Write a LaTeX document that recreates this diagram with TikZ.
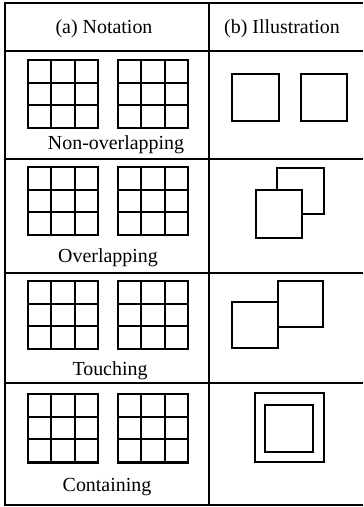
\documentclass[tikz,border=0pt]{standalone}
\usepackage{fontspec}
\setmainfont{Liberation Serif}
\tikzset{
  rule/.style={line width=1.8pt, black},
  gridouter/.style={line width=3pt, black},
  gridinner/.style={line width=2.1pt, black},
  sq/.style={line width=2.8pt, black, fill=white},
  lbl/.style={font=\fontsize{20}{22}\selectfont, inner sep=0pt, anchor=base}
}
\newcommand{\mygrid}[2]{%
  \draw[gridinner] (#1+23.33,#2) -- (#1+23.33,#2+68);
  \draw[gridinner] (#1+46.67,#2) -- (#1+46.67,#2+68);
  \draw[gridinner] (#1,#2+22.67) -- (#1+70,#2+22.67);
  \draw[gridinner] (#1,#2+45.33) -- (#1+70,#2+45.33);
  \draw[gridouter] (#1,#2) rectangle (#1+70,#2+68);
}
\begin{document}
\begin{tikzpicture}[x=1bp,y=-1bp]
\useasboundingbox[fill=white] (0,0) rectangle (363,507);
% table rules
\draw[rule] (363,3) -- (5,3) -- (5,505) -- (363,505);
\draw[rule] (209,3) -- (209,505);
\draw[rule] (5,51) -- (363,51);
\draw[rule] (5,159) -- (363,159);
\draw[rule] (5,273) -- (363,273);
\draw[rule] (5,383) -- (363,383);
% headers
\node[lbl] (ha) at (104,34) {(a) Notation};
\node[lbl] (hb) at (282,34) {(b) Illustration};
% row 1
\mygrid{28}{60}
\mygrid{118}{60}
\node[lbl] (l1) at (116,150) {Non-overlapping};
\draw[sq] (232,74) rectangle (279,121);
\draw[sq] (301,74) rectangle (347,121);
% row 2
\mygrid{28}{167}
\mygrid{118}{167}
\node[lbl] (l2) at (108,262) {Overlapping};
\draw[sq] (277,168) rectangle (324,214);
\draw[sq] (256,190) rectangle (302,238);
% row 3
\mygrid{28}{281}
\mygrid{118}{281}
\node[lbl] (l3) at (110,375) {Touching};
\draw[sq] (278,281) rectangle (323,327);
\draw[sq] (232,302) rectangle (278,348);
% row 4
\mygrid{28}{394}
\mygrid{118}{394}
\node[lbl] (l4) at (107,491) {Containing};
\draw[sq] (255,393) rectangle (324,462);
\draw[sq] (265,405) rectangle (313,452);
\end{tikzpicture}
\end{document}
